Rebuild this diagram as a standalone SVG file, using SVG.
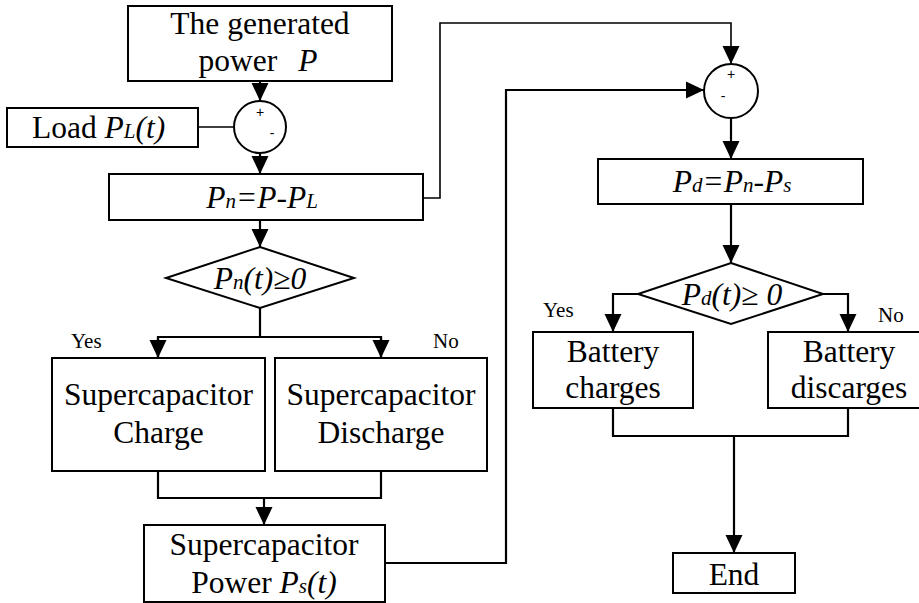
<svg xmlns="http://www.w3.org/2000/svg" width="919" height="603" viewBox="0 0 919 603">
<style>
.box{fill:#fff;stroke:#000;stroke-width:2}
.t{font-family:"Liberation Serif","Times New Roman",serif;font-size:31.5px;fill:#000;text-anchor:middle}
.i{font-style:italic}
.s{font-style:italic;font-size:21px}
.lbl{font-family:"Liberation Serif","Times New Roman",serif;font-size:21px;fill:#000}
.sg{font-family:"Liberation Sans",Arial,sans-serif;font-size:14px;fill:#000;text-anchor:middle}
.c{fill:none;stroke:#000;stroke-width:2.2}
.thin{stroke-width:1.6}
</style>
<defs>
<marker id="ah" markerUnits="userSpaceOnUse" markerWidth="18" markerHeight="18" viewBox="0 0 18 18" refX="18" refY="9" orient="auto">
<path d="M0,0.5 L18,9 L0,17.5 z" fill="#000"/>
</marker>
</defs>
<g id="connectors">
<path class="c" d="M260,81 V101" marker-end="url(#ah)"/>
<path class="c thin" d="M198,127 H234"/>
<path class="c" d="M260,153 V174" marker-end="url(#ah)"/>
<path class="c thin" d="M423,198 H440 V23 H731 V64" marker-end="url(#ah)"/>
<path class="c" d="M385,563 H506 V90 H704" marker-end="url(#ah)"/>
<path class="c" d="M731,118 V159" marker-end="url(#ah)"/>
<path class="c" d="M731,204 V263" marker-end="url(#ah)"/>
<path class="c" d="M638,294 H613 V332" marker-end="url(#ah)"/>
<path class="c" d="M823,294 H848 V332" marker-end="url(#ah)"/>
<path class="c" d="M613,408 V436 H848 V408"/>
<path class="c" d="M734,436 V553" marker-end="url(#ah)"/>
<path class="c" d="M260,220 V247" marker-end="url(#ah)"/>
<path class="c" d="M260,308 V337"/>
<path class="c" d="M158,358 V337 H381 V358"/>
<path class="c" d="M158,337 V358" marker-end="url(#ah)"/>
<path class="c" d="M381,337 V358" marker-end="url(#ah)"/>
<path class="c" d="M158,471 V498 H381 V471"/>
<path class="c" d="M264,498 V525" marker-end="url(#ah)"/>
</g>
<g id="generated">
<rect class="box" x="128" y="6" width="264" height="75"/>
<text class="t" x="260" y="34">The generated</text>
<text class="t" x="258" y="71">power<tspan class="i" dx="21">P</tspan></text>
</g>
<g id="load">
<rect class="box" x="7" y="108" width="191" height="39"/>
<text class="t" x="32" y="138" style="text-anchor:start">Load  <tspan class="i">P</tspan><tspan class="s">L</tspan><tspan class="i">(t)</tspan></text>
</g>
<g id="sum1">
<circle class="box" cx="260" cy="127" r="26"/>
<text class="sg" x="260" y="117">+</text>
<text class="sg" x="272" y="138">-</text>
</g>
<g id="pn">
<rect class="box" x="109" y="174" width="314" height="46"/>
<text class="t" x="262" y="208"><tspan class="i">P</tspan><tspan class="s">n</tspan><tspan class="i">=P-P</tspan><tspan class="s">L</tspan></text>
</g>
<g id="dec1">
<polygon class="box" points="260,247 354,278 260,308 166,278"/>
<text class="t" x="260" y="289"><tspan class="i">P</tspan><tspan class="s">n</tspan><tspan class="i">(t)≥0</tspan></text>
</g>
<g id="labels1">
<text class="lbl" x="71" y="348">Yes</text>
<text class="lbl" x="433" y="348">No</text>
</g>
<g id="sccharge">
<rect class="box" x="52" y="358" width="213" height="113"/>
<text class="t" x="158.5" y="405">Supercapacitor</text>
<text class="t" x="158.5" y="443">Charge</text>
</g>
<g id="scdischarge">
<rect class="box" x="275" y="358" width="212" height="113"/>
<text class="t" x="381" y="405">Supercapacitor</text>
<text class="t" x="381" y="443">Discharge</text>
</g>
<g id="scpower">
<rect class="box" x="144" y="525" width="241" height="77"/>
<text class="t" x="264" y="555">Supercapacitor</text>
<text class="t" x="264" y="593">Power  <tspan class="i">P</tspan><tspan class="s">s</tspan><tspan class="i">(t)</tspan></text>
</g>
<g id="sum2">
<circle class="box" cx="731" cy="91" r="27"/>
<text class="sg" x="731" y="79">+</text>
<text class="sg" x="723" y="101">-</text>
</g>
<g id="pd">
<rect class="box" x="598" y="159" width="265" height="45"/>
<text class="t" x="732" y="192"><tspan class="i">P</tspan><tspan class="s">d</tspan><tspan class="i">=P</tspan><tspan class="s">n</tspan><tspan class="i">-P</tspan><tspan class="s">s</tspan></text>
</g>
<g id="dec2">
<polygon class="box" points="731,263 823,294 731,324 638,294"/>
<text class="t" x="732" y="305"><tspan class="i">P</tspan><tspan class="s">d</tspan><tspan class="i">(t)≥ 0</tspan></text>
</g>
<g id="labels2">
<text class="lbl" x="543" y="317">Yes</text>
<text class="lbl" x="878" y="322">No</text>
</g>
<g id="bcharge">
<rect class="box" x="533" y="332" width="160" height="76"/>
<text class="t" x="613" y="362">Battery</text>
<text class="t" x="613" y="398">charges</text>
</g>
<g id="bdischarge">
<rect class="box" x="768" y="332" width="162" height="76"/>
<text class="t" x="849" y="362">Battery</text>
<text class="t" x="849" y="398">discarges</text>
</g>
<g id="end">
<rect class="box" x="673" y="553" width="122" height="40"/>
<text class="t" x="734" y="585">End</text>
</g>
</svg>
